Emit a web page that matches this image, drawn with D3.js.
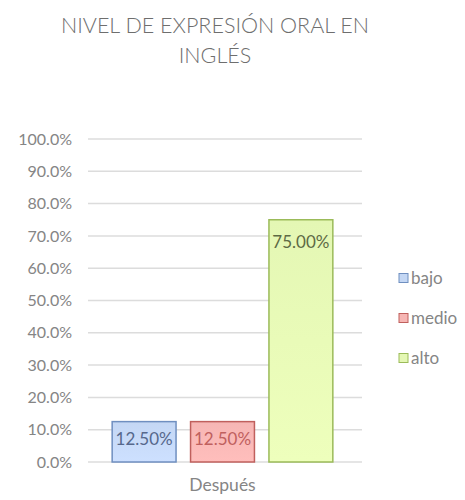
<!DOCTYPE html>
<html><head><meta charset="utf-8">
<script src="https://cdn.jsdelivr.net/npm/d3@7"></script>
<style>body{margin:0;background:#fff}</style>
</head><body>
<script>
const title = ["NIVEL DE EXPRESIÓN ORAL EN", "INGLÉS"];
const category = ["Después"];
const series = ["bajo", "medio", "alto"];
const values = [0.125, 0.125, 0.75];
const labels = ["12.50%", "12.50%", "75.00%"];
const yTicks = [0, 0.1, 0.2, 0.3, 0.4, 0.5, 0.6, 0.7, 0.8, 0.9, 1.0];
const fills = ["#c4d7f4", "#f6b6b4", "#e4f7b4"];
const strokes = ["#6f8fc0", "#c0605d", "#9bbb59"];
const labelColors = ["#56688c", "#c0605e", "#5d6a44"];

const W = 465, H = 500;
const svg = d3.select("body").append("svg").attr("width", W).attr("height", H);
const font = "Lato, 'Open Sans', sans-serif";

svg.append("g").selectAll("text").data(title).join("text")
  .attr("x", 215).attr("y", (d, i) => 33 + i * 30)
  .attr("text-anchor", "middle").attr("font-family", font).attr("font-weight", 300)
  .attr("font-size", 21.5).attr("fill", "#6e6e6e").text(d => d);

const y = d3.scaleLinear().domain([0, 1]).range([462, 139]);
const x0 = d3.scaleBand().domain(category).range([88, 357]).paddingInner(0).paddingOuter(0.1095);
const x1 = d3.scaleBand().domain(series).range([0, x0.bandwidth()]).paddingInner(0.185);

svg.append("g").selectAll("line").data(yTicks).join("line")
  .attr("x1", 88).attr("x2", 362).attr("y1", d => y(d)).attr("y2", d => y(d))
  .attr("stroke", "#dcdcdc").attr("stroke-width", 1.5);

const yAxis = d3.axisLeft(y).tickValues(yTicks).tickFormat(d3.format(".1%")).tickSize(0).tickPadding(16);
const gy = svg.append("g").attr("transform", "translate(88,0)").call(yAxis);
gy.select(".domain").remove();
gy.selectAll("text").attr("font-family", font).attr("font-size", 16).attr("fill", "#858585");

const xAxis = d3.axisBottom(x0).tickSize(0).tickPadding(17);
const gx = svg.append("g").attr("transform", "translate(0,462)").call(xAxis);
gx.select(".domain").remove();
gx.selectAll("text").attr("font-family", font).attr("font-size", 17.5).attr("fill", "#858585");

const defs = svg.append("defs");
series.forEach((s, i) => {
  const g = defs.append("linearGradient").attr("id", "g" + i).attr("x1", 0).attr("y1", 0).attr("x2", 0).attr("y2", 1);
  g.append("stop").attr("offset", "0%").attr("stop-color", fills[i]);
  g.append("stop").attr("offset", "100%").attr("stop-color", d3.color(fills[i]).brighter(0.12));
});

const gb = svg.append("g").attr("transform", `translate(${x0(category[0])},0)`);
gb.selectAll("rect").data(values).join("rect")
  .attr("x", (d, i) => x1(series[i])).attr("width", x1.bandwidth())
  .attr("y", d => y(d)).attr("height", d => y(0) - y(d))
  .attr("fill", (d, i) => `url(#g${i})`).attr("stroke", (d, i) => strokes[i]).attr("stroke-width", 1.5);

gb.selectAll("text").data(values).join("text")
  .attr("x", (d, i) => x1(series[i]) + x1.bandwidth() / 2)
  .attr("y", (d, i) => y(d) + (d > 0.5 ? 28 : 23))
  .attr("text-anchor", "middle").attr("font-family", font).attr("font-size", 17)
  .attr("fill", (d, i) => labelColors[i]).text((d, i) => labels[i]);

const lg = svg.append("g").selectAll("g").data(series).join("g")
  .attr("transform", (d, i) => `translate(399,${278 + i * 40})`);
lg.append("rect").attr("x", 0).attr("y", -4.5).attr("width", 9).attr("height", 9)
  .attr("fill", (d, i) => fills[i]).attr("stroke", (d, i) => strokes[i]);
lg.append("text").attr("x", 12).attr("y", 5.5).attr("font-family", font).attr("font-size", 17)
  .attr("fill", "#858585").text(d => d);
</script>
</body></html>
